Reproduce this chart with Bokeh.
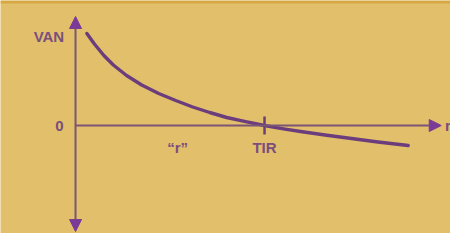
from bokeh.plotting import figure
from bokeh.models import Arrow, NormalHead, Range1d, ColumnDataSource
from bokeh.core.properties import value
from bokeh.embed import file_html
from bokeh.resources import INLINE

# Curve data: discount rate r vs VAN (NPV)
r_vals = [0.6, 1.0, 1.5, 2.0, 2.7, 3.5, 4.4, 5.3, 6.2, 7.1, 8.0, 9.0, 10.0,
          11.0, 12.0, 13.2, 14.5, 16.0, 17.6]
van_vals = [9.2, 8.15, 7.0, 6.05, 5.0, 4.05, 3.2, 2.5, 1.85, 1.3, 0.8, 0.38, 0.0,
            -0.33, -0.63, -0.95, -1.28, -1.65, -2.0]

tir = 10.0
r_label_pos = 5.4
axis_x_max = 19.35
axis_y_min = -10.6
axis_y_max = 10.9

labels_text = ["VAN", "0", "\u201cr\u201d", "TIR", "r"]

PURPLE = "#6b3d7d"
HEAD = "#7a3a98"
AXIS = "#7a5575"
TXT = "#7a4e7e"
BG = "#e2bf6b"

p = figure(width=450, height=233, x_range=Range1d(-3.97, 19.84),
           y_range=Range1d(-10.8, 12.5), output_backend="svg",
           toolbar_location=None, min_border=0)
p.axis.visible = False
p.grid.visible = False
p.outline_line_color = None
p.background_fill_color = BG
p.border_fill_color = BG

# darker top band (photo edge)
p.quad(left=-3.97, right=19.84, top=12.5, bottom=12.2, fill_color="#d6a745", line_color=None)

# axes with arrows
p.add_layout(Arrow(x_start=0, y_start=axis_y_min, x_end=0, y_end=axis_y_max,
                   line_color=AXIS, line_width=2,
                   start=NormalHead(size=12, fill_color=HEAD, line_color=HEAD),
                   end=NormalHead(size=12, fill_color=HEAD, line_color=HEAD)))
p.add_layout(Arrow(x_start=0, y_start=0, x_end=axis_x_max, y_end=0,
                   line_color=AXIS, line_width=2,
                   end=NormalHead(size=12, fill_color=HEAD, line_color=HEAD)))

# curve
p.line(r_vals, van_vals, line_color=PURPLE, line_width=3.4, line_cap="round", line_join="round")

# TIR tick
p.segment(x0=[tir], y0=[0.9], x1=[tir], y1=[-0.9], line_color=PURPLE, line_width=2.5)

# labels
right_src = ColumnDataSource(dict(x=[-0.6, -0.63], y=[8.9, 0.0], t=labels_text[:2]))
p.text(x="x", y="y", text="t", source=right_src, text_align="right",
       text_baseline="middle", text_font=value("Liberation Sans"),
       text_font_style="bold", text_font_size="15px", text_color=TXT)

center_src = ColumnDataSource(dict(x=[r_label_pos, tir], y=[-2.2, -2.2], t=labels_text[2:4]))
p.text(x="x", y="y", text="t", source=center_src, text_align="center",
       text_baseline="middle", text_font=value("Liberation Sans"),
       text_font_style="bold", text_font_size="15px", text_color=TXT)

r_src = ColumnDataSource(dict(x=[19.55], y=[0.0], t=labels_text[4:]))
p.text(x="x", y="y", text="t", source=r_src, text_align="left",
       text_baseline="middle", text_font=value("Liberation Sans"),
       text_font_style="bold", text_font_size="15px", text_color=TXT)

open("out.html", "w").write(file_html(p, INLINE))
